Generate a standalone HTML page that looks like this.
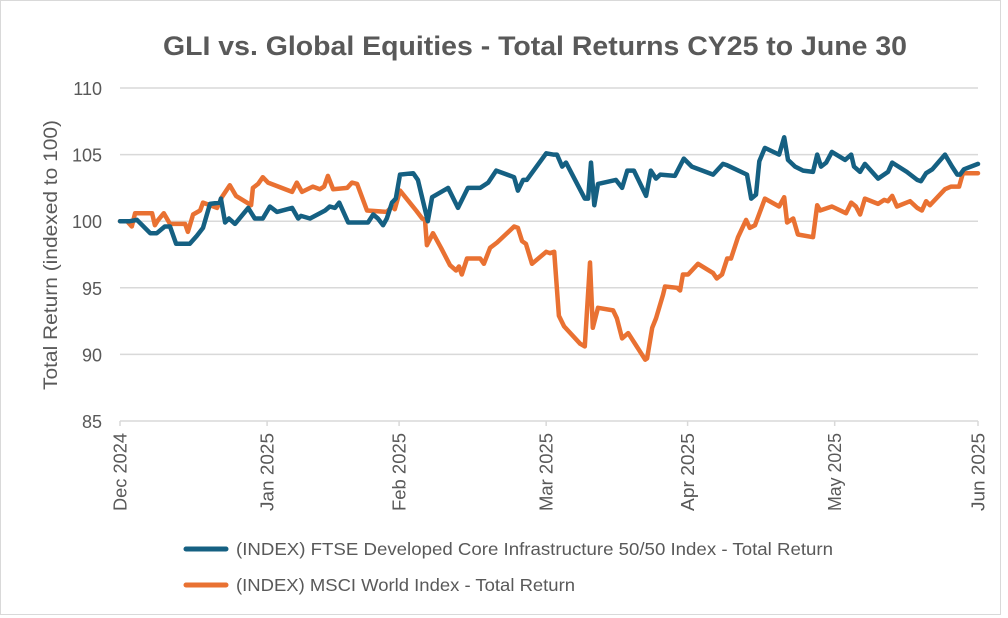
<!DOCTYPE html>
<html><head><meta charset="utf-8"><style>
html,body{margin:0;padding:0;background:#fff;}
svg{display:block;font-family:"Liberation Sans",Arial,sans-serif;}
</style></head><body>
<svg id="chart" width="1008" height="618" viewBox="0 0 1008 618" xmlns="http://www.w3.org/2000/svg">
<rect x="0.5" y="0.5" width="1000" height="614" fill="#fff" stroke="#d9d9d9"/>
<text x="535" y="55" text-anchor="middle" font-size="27" font-weight="bold" fill="#595959" textLength="744" lengthAdjust="spacingAndGlyphs">GLI vs. Global Equities - Total Returns CY25 to June 30</text>
<g id="grid"></g>
<g id="yticks"></g>
<g id="xticks"></g>
<text transform="translate(57,255) rotate(-90)" text-anchor="middle" font-size="19" fill="#595959" textLength="270" lengthAdjust="spacingAndGlyphs">Total Return (indexed to 100)</text>
<g id="series"></g>
<g>
<line x1="186" y1="549" x2="226" y2="549" stroke="#156082" stroke-width="5" stroke-linecap="round"/>
<text x="236" y="555" font-size="17.5" fill="#595959" textLength="597" lengthAdjust="spacingAndGlyphs">(INDEX) FTSE Developed Core Infrastructure 50/50 Index - Total Return</text>
<line x1="186" y1="585" x2="226" y2="585" stroke="#e97132" stroke-width="5" stroke-linecap="round"/>
<text x="236" y="591" font-size="17.5" fill="#595959" textLength="339" lengthAdjust="spacingAndGlyphs">(INDEX) MSCI World Index - Total Return</text>
</g>
</svg>
<script>
const yTicks=[85,90,95,100,105,110];
const monthLabels=["Dec 2024","Jan 2025","Feb 2025","Mar 2025","Apr 2025","May 2025","Jun 2025"];
const monthDays=[0,31.2,59.2,90.4,120.4,151.6,182];
const ftseDays=[0,2.1,3.6,6.4,7.8,9.5,10.6,11.9,14.8,16.3,17.6,19.1,21.2,21.4,22.3,23.1,24.4,27.2,28.6,30.3,31.8,33.3,36.5,37.8,38.4,40.3,43.5,44.5,45.6,46.5,48.4,52.6,53.7,54.7,55.8,56.6,57.7,58.5,59.4,62.2,63.2,65.3,66.2,69.6,71.7,73.8,76.4,78.1,79.8,83.6,84.4,85.5,86.3,90.4,91.9,92.7,93.8,94.6,98.6,99.3,99.9,100.6,101.4,105.2,106.5,107.6,109.0,111.6,112.6,113.7,114.6,117.7,119.6,121.3,125.8,127.9,128.8,133.0,133.9,134.9,135.6,136.8,139.8,140.9,141.7,143.2,144.9,147.0,147.9,148.7,149.8,151.0,153.8,155.1,155.7,157.0,158.0,160.8,162.9,163.8,166.9,169.1,169.9,171.0,172.3,175.0,176.5,177.6,178.2,179.0,182.0];
const ftseValues=[100.0,100.0,100.1,99.1,99.1,99.6,99.6,98.3,98.3,98.9,99.5,101.3,101.4,101.7,99.9,100.2,99.8,101.0,100.2,100.2,101.1,100.7,101.0,100.2,100.4,100.2,100.8,101.1,101.0,101.4,99.9,99.9,100.5,100.2,99.7,100.2,101.4,101.7,103.5,103.6,103.1,100.0,101.8,102.5,101.0,102.5,102.5,102.9,103.8,103.3,102.3,103.1,103.1,105.1,105.0,105.0,104.1,104.4,101.7,101.7,104.4,101.2,102.8,103.1,102.5,103.8,103.8,101.9,103.8,103.2,103.5,103.4,104.7,104.1,103.5,104.3,104.2,103.5,101.7,102.0,104.5,105.5,105.0,106.3,104.6,104.1,103.8,103.7,105.0,104.1,104.4,105.2,104.6,105.0,104.1,103.7,104.3,103.2,103.7,104.4,103.7,103.1,103.0,103.6,103.9,105.0,104.1,103.5,103.5,103.9,104.3];
const msciDays=[0,1.5,2.5,3.2,6.8,7.4,8.1,9.3,10.6,13.8,14.4,15.5,17.0,17.6,20.6,21.6,23.3,24.6,27.8,28.2,29.3,30.3,31.4,36.5,37.5,38.6,40.9,42.4,43.3,44.1,45.2,48.2,49.2,50.3,52.4,56.6,57.7,58.3,59.4,61.9,62.8,64.1,64.7,65.1,66.4,68.1,70.0,71.3,71.9,72.5,73.6,76.4,77.2,78.5,80.0,82.7,83.6,84.4,85.3,86.1,87.4,90.4,91.2,92.1,93.1,94.2,97.6,98.6,99.7,100.3,101.4,104.6,105.4,106.5,107.8,111.4,111.8,112.9,113.7,115.2,115.6,118.2,118.8,119.4,120.5,122.6,125.8,126.6,127.7,128.8,129.6,131.1,132.8,133.6,134.7,136.8,139.8,140.9,141.5,142.8,143.8,147.0,147.9,148.5,151.0,154.0,155.1,156.1,157.0,158.0,160.8,162.1,162.9,163.8,164.8,167.6,169.1,170.1,171.0,171.8,175.0,176.3,178.0,178.8,182.0];
const msciValues=[100.0,100.0,99.6,100.6,100.6,99.7,100.1,100.6,99.8,99.8,99.2,100.5,100.8,101.4,101.0,101.8,102.7,101.9,101.2,102.5,102.8,103.3,102.9,102.2,102.9,102.2,102.6,102.4,102.6,103.4,102.4,102.5,102.9,102.8,100.8,100.7,101.1,100.9,102.3,101.2,100.8,100.2,100.1,98.2,99.1,98.0,96.7,96.3,96.6,96.0,97.2,97.2,96.8,98.0,98.4,99.3,99.6,99.5,98.5,98.3,96.8,97.7,97.6,97.7,92.9,92.1,90.8,90.6,96.9,92.0,93.5,93.3,92.7,91.2,91.6,89.6,89.7,92.0,92.7,94.5,95.1,95.0,94.8,96.0,96.0,96.8,96.1,95.7,96.0,97.2,97.2,98.8,100.1,99.5,99.7,101.7,101.1,101.8,99.9,100.2,99.0,98.8,101.2,100.8,101.1,100.6,101.4,101.1,100.5,101.7,101.3,101.6,101.5,101.9,101.1,101.5,101.0,100.8,101.5,101.2,102.4,102.6,102.6,103.6,103.6];

const X0=120,X1=978,Y0=421,Y1=88,DMAX=182,VMIN=85,VMAX=110;
const xs=d=>X0+(X1-X0)*d/DMAX;
const ys=v=>Y0-(Y0-Y1)*(v-VMIN)/(VMAX-VMIN);
const NS="http://www.w3.org/2000/svg";
function mk(tag,parent){const e=document.createElementNS(NS,tag);parent.appendChild(e);return e;}
const grid=document.getElementById('grid'),yt=document.getElementById('yticks'),xt=document.getElementById('xticks'),ser=document.getElementById('series');
yTicks.forEach(v=>{
  const l=mk('line',grid);
  
  
  l.setAttribute('x1',X0);l.setAttribute('x2',X1);l.setAttribute('y1',ys(v));l.setAttribute('y2',ys(v));
  l.setAttribute('stroke','#d9d9d9');l.setAttribute('stroke-width','1.5');
  const t=mk('text',yt);
  
  
  t.setAttribute('x',102);t.setAttribute('y',ys(v)+7);t.setAttribute('text-anchor','end');
  t.setAttribute('font-size','18');t.setAttribute('fill','#595959');t.textContent=v;
});
monthDays.forEach((d,i)=>{
  const x=xs(d);
  const tk=mk('line',xt);
  
  
  tk.setAttribute('x1',x);tk.setAttribute('x2',x);tk.setAttribute('y1',Y0);tk.setAttribute('y2',Y0+5);
  tk.setAttribute('stroke','#d9d9d9');tk.setAttribute('stroke-width','1.5');
  const t=mk('text',xt);
  
  
  t.setAttribute('transform','translate('+(x+6.5)+','+(Y0+12)+') rotate(-90)');
  t.setAttribute('text-anchor','end');t.setAttribute('font-size','18');t.setAttribute('fill','#595959');
  t.setAttribute('textLength','78');t.setAttribute('lengthAdjust','spacingAndGlyphs');
  t.textContent=monthLabels[i];
});
function drawLine(days,vals,color,name){
  const p=mk('polyline',ser);
  
  
  p.setAttribute('points',days.map((d,i)=>xs(d).toFixed(1)+','+ys(vals[i]).toFixed(1)).join(' '));
  p.setAttribute('fill','none');p.setAttribute('stroke',color);p.setAttribute('stroke-width','4.5');
  p.setAttribute('stroke-linejoin','round');p.setAttribute('stroke-linecap','round');
}
drawLine(msciDays,msciValues,'#e97132','msci-world-line');
drawLine(ftseDays,ftseValues,'#156082','ftse-infrastructure-line');
</script>
</body></html>
